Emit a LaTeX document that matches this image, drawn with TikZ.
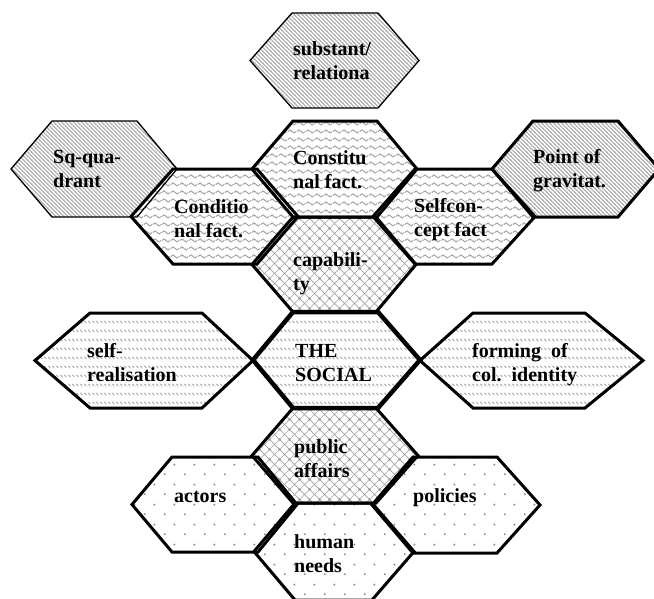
\documentclass[tikz,border=0pt]{standalone}
\usepackage{fontspec}
\setmainfont{Liberation Serif}
\usetikzlibrary{patterns}

% downward diagonal lines
\pgfdeclarepatternformonly{diagw}{\pgfqpoint{0pt}{0pt}}{\pgfqpoint{4.2pt}{4.2pt}}{\pgfqpoint{4.2pt}{4.2pt}}{%
  \pgfsetlinewidth{0.95pt}%
  \pgfpathmoveto{\pgfqpoint{-1pt}{5.2pt}}\pgfpathlineto{\pgfqpoint{5.2pt}{-1pt}}%
  \pgfpathmoveto{\pgfqpoint{-1pt}{1pt}}\pgfpathlineto{\pgfqpoint{1pt}{-1pt}}%
  \pgfpathmoveto{\pgfqpoint{3.2pt}{5.2pt}}\pgfpathlineto{\pgfqpoint{5.2pt}{3.2pt}}%
  \pgfusepath{stroke}}
% wave
\pgfdeclarepatternformonly{wavy}{\pgfqpoint{0pt}{0pt}}{\pgfqpoint{9pt}{7.5pt}}{\pgfqpoint{9pt}{7.5pt}}{%
  \pgfsetlinewidth{1.05pt}%
  \pgfpathmoveto{\pgfqpoint{0pt}{3.75pt}}%
  \pgfpathsine{\pgfqpoint{2.25pt}{1.6pt}}%
  \pgfpathcosine{\pgfqpoint{2.25pt}{-1.6pt}}%
  \pgfpathsine{\pgfqpoint{2.25pt}{-1.6pt}}%
  \pgfpathcosine{\pgfqpoint{2.25pt}{1.6pt}}%
  \pgfusepath{stroke}}
% diagonal cross
\pgfdeclarepatternformonly{xgrid}{\pgfqpoint{0pt}{0pt}}{\pgfqpoint{10pt}{10pt}}{\pgfqpoint{10pt}{10pt}}{%
  \pgfsetlinewidth{0.7pt}%
  \pgfpathmoveto{\pgfqpoint{-1pt}{-1pt}}\pgfpathlineto{\pgfqpoint{11pt}{11pt}}%
  \pgfpathmoveto{\pgfqpoint{9pt}{-1pt}}\pgfpathlineto{\pgfqpoint{11pt}{1pt}}%
  \pgfpathmoveto{\pgfqpoint{-1pt}{9pt}}\pgfpathlineto{\pgfqpoint{1pt}{11pt}}%
  \pgfpathmoveto{\pgfqpoint{-1pt}{11pt}}\pgfpathlineto{\pgfqpoint{11pt}{-1pt}}%
  \pgfpathmoveto{\pgfqpoint{-1pt}{1pt}}\pgfpathlineto{\pgfqpoint{1pt}{-1pt}}%
  \pgfpathmoveto{\pgfqpoint{9pt}{11pt}}\pgfpathlineto{\pgfqpoint{11pt}{9pt}}%
  \pgfusepath{stroke}}
% dashed downward diagonal
\pgfdeclarepatternformonly{ddiag}{\pgfqpoint{0pt}{0pt}}{\pgfqpoint{4pt}{9pt}}{\pgfqpoint{4pt}{9pt}}{%
  \pgfsetlinewidth{1pt}%
  \pgfpathmoveto{\pgfqpoint{0.6pt}{7.8pt}}\pgfpathlineto{\pgfqpoint{3pt}{5.4pt}}%
  \pgfusepath{stroke}}
% sparse dots
\pgfdeclarepatternformonly{sdots}{\pgfqpoint{0pt}{0pt}}{\pgfqpoint{20pt}{20pt}}{\pgfqpoint{20pt}{20pt}}{%
  \pgfpathcircle{\pgfqpoint{5pt}{5pt}}{1.1pt}%
  \pgfpathcircle{\pgfqpoint{15pt}{15pt}}{1.1pt}%
  \pgfusepath{fill}}

\definecolor{pgray}{gray}{0.64}
\definecolor{dgray}{gray}{0.55}

\newcommand\hexa[7]{\path[#1] (#2,{(#6+#7)/2}) -- (#3,#6) -- (#4,#6) -- (#5,{(#6+#7)/2}) -- (#4,#7) -- (#3,#7) -- cycle;}
\newcommand\twol[2]{\begin{tabular}[t]{@{}l@{}}#1\\#2\end{tabular}}

\begin{document}
\begin{tikzpicture}[x=1pt,y=-1pt,
  pdiag/.style={fill=white, postaction={pattern=diagw, pattern color=pgray}},
  pwave/.style={fill=white, postaction={pattern=wavy, pattern color=pgray}},
  pcross/.style={fill=white, postaction={pattern=xgrid, pattern color=pgray}},
  pdash/.style={fill=white, postaction={pattern=ddiag, pattern color=pgray}},
  pdots/.style={fill=white, postaction={pattern=sdots, pattern color=dgray}},
  bthin/.style={draw=black, line width=1.3pt},
  bthick/.style={draw=black, line width=3pt},
  bthickest/.style={draw=black, line width=4.5pt},
  lbl/.style={anchor=base west, inner sep=0pt, font=\bfseries\fontsize{20}{24}\selectfont}]
\useasboundingbox (0,0) rectangle (654,598);
\fill[white] (0,0) rectangle (654,598);

% ---- fills ----
\hexa{pdiag}{250}{292}{378}{419}{13}{108}   % substant
\hexa{pdiag}{11}{52}{137}{177}{121}{217}    % Sq-quadrant
\hexa{pwave}{252}{293}{377}{417}{121}{217}  % Constitual
\hexa{pdiag}{492}{533}{618}{659}{121}{217}  % Point of gravitat
\hexa{pwave}{131}{173}{257}{298}{169}{264}  % Conditional
\hexa{pwave}{373}{415}{492}{535}{169}{264}  % Selfconcept
\hexa{pcross}{252}{293}{376}{416}{217}{312} % capability
\hexa{pdash}{35}{90}{202}{253}{313}{408}    % self-realisation
\hexa{pdash}{420}{473}{585}{643}{313}{408}  % forming
\hexa{pdash}{253}{293}{378}{420}{312}{408}  % THE SOCIAL
\hexa{pcross}{252}{293}{376}{418}{408}{503} % public affairs
\hexa{pdots}{132}{172}{258}{297}{457}{552}  % actors
\hexa{pdots}{372}{413}{497}{540}{457}{553}  % policies
\hexa{pdots}{254}{295}{372}{414}{503}{600}  % human needs

% ---- borders ----
\hexa{bthin}{250}{292}{378}{419}{13}{108}
\hexa{bthin}{11}{52}{137}{177}{121}{217}
\hexa{bthick}{252}{293}{377}{417}{121}{217}
\hexa{bthick}{492}{533}{618}{659}{121}{217}
\hexa{bthick}{131}{173}{257}{298}{169}{264}
\hexa{bthick}{373}{415}{492}{535}{169}{264}
\hexa{bthick}{252}{293}{376}{416}{217}{312}
\hexa{bthick}{35}{90}{202}{253}{313}{408}
\hexa{bthick}{420}{473}{585}{643}{313}{408}
\hexa{bthick}{252}{293}{376}{418}{408}{503}
\hexa{bthick}{132}{172}{258}{297}{457}{552}
\hexa{bthick}{372}{413}{497}{540}{457}{553}
\hexa{bthick}{254}{295}{372}{414}{503}{600}
\hexa{bthickest}{253}{293}{378}{420}{312}{408}

% ---- labels ----
\node[lbl] (sub) at (293,55)  {\twol{substant/}{relationa}};
\node[lbl] (sq)  at (53,163)  {\twol{Sq-qua-}{drant}};
\node[lbl] (con) at (293,164) {\twol{Constitu}{nal fact.}};
\node[lbl] (poi) at (533,163) {\twol{Point of}{gravitat.}};
\node[lbl] (cnd) at (174,213) {\twol{Conditio}{nal fact.}};
\node[lbl] (slf) at (414,212) {\twol{Selfcon-}{cept fact}};
\node[lbl] (cap) at (293,266) {\twol{capabili-}{ty}};
\node[lbl] (soc) at (295,357) {\twol{THE}{SOCIAL}};
\node[lbl] (sre) at (87,357)  {\twol{self-}{realisation}};
\node[lbl] (frm) at (472,357) {\twol{forming\ \ of}{col.\ \ identity}};
\node[lbl] (pub) at (294,453) {\twol{public}{affairs}};
\node[lbl] (act) at (174,502) {actors};
\node[lbl] (pol) at (413,502) {policies};
\node[lbl] (hum) at (294,548) {\twol{human}{needs}};
\end{tikzpicture}
\end{document}
